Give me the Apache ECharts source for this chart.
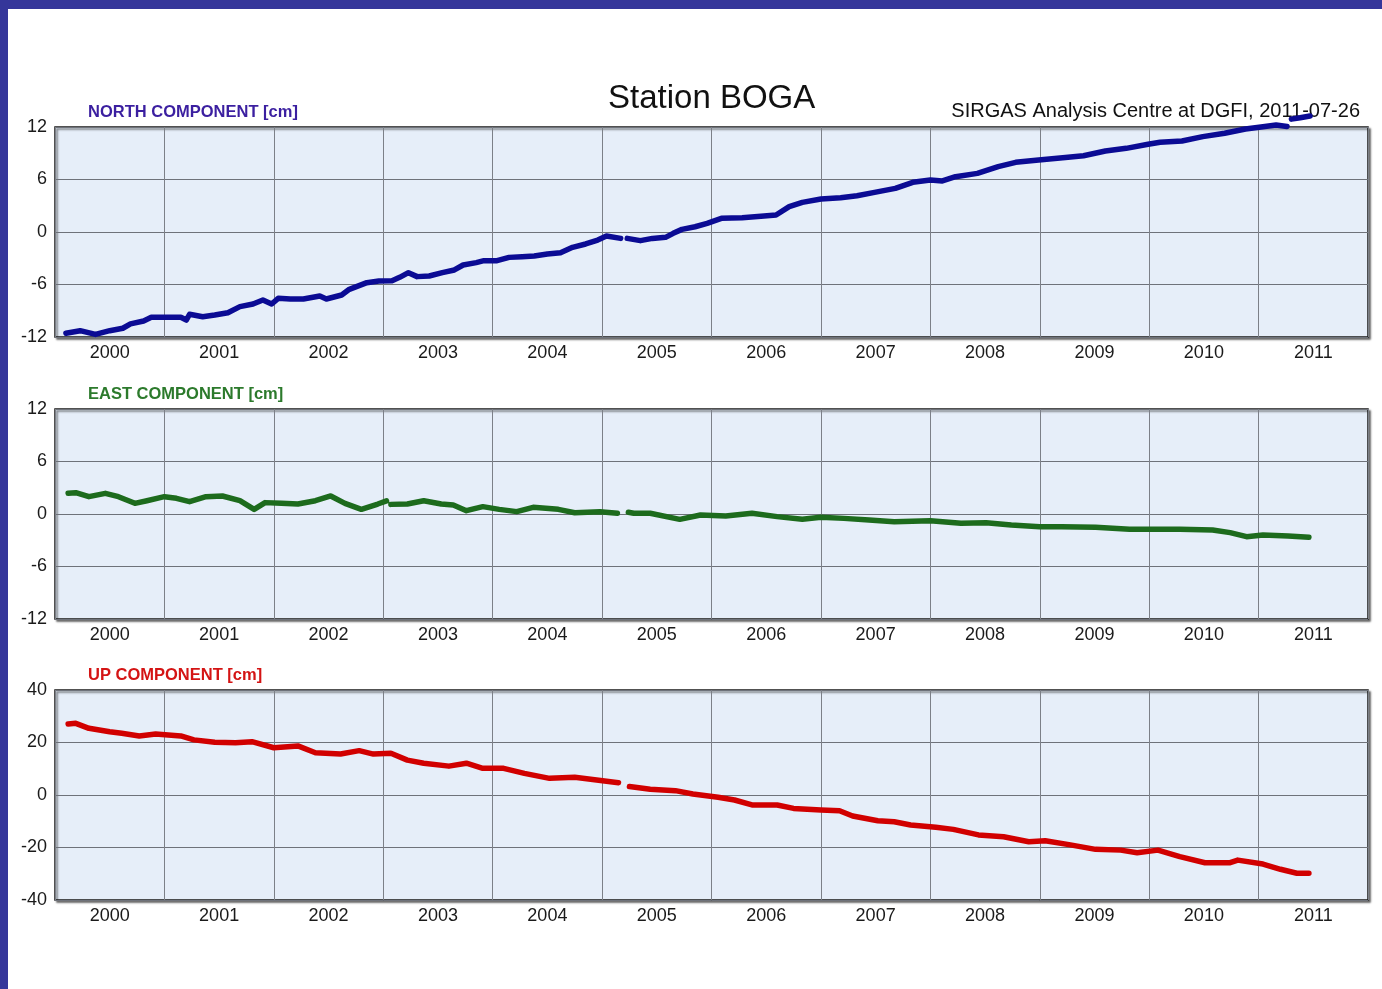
<!DOCTYPE html>
<html>
<head>
<meta charset="utf-8">
<script src="https://cdn.jsdelivr.net/npm/echarts@6/dist/echarts.min.js"></script>
<style>
html,body{margin:0;padding:0;background:#fff;}
#c{width:1382px;height:989px;}
</style>
</head>
<body>
<div id="c"></div>
<script>
const yearLabels = ['2000','2001','2002','2003','2004','2005','2006','2007','2008','2009','2010','2011'];
const northTicks = [-12, 12, 6];   // min, max, interval
const eastTicks = [-12, 12, 6];
const upTicks = [-40, 40, 20];

const northData = [
[2000.10,-11.58],[2000.23,-11.28],[2000.37,-11.7],[2000.50,-11.28],[2000.62,-11.0],[2000.69,-10.5],
[2000.81,-10.17],[2000.88,-9.75],[2001.00,-9.75],[2001.15,-9.75],[2001.20,-10.06],[2001.23,-9.4],
[2001.35,-9.68],[2001.46,-9.49],[2001.58,-9.22],[2001.69,-8.53],[2001.81,-8.23],[2001.90,-7.77],
[2001.98,-8.23],[2002.04,-7.58],[2002.15,-7.66],[2002.27,-7.66],[2002.42,-7.32],[2002.48,-7.66],
[2002.62,-7.2],[2002.69,-6.55],[2002.85,-5.79],[2002.96,-5.6],[2003.08,-5.56],[2003.15,-5.18],
[2003.23,-4.65],[2003.31,-5.1],[2003.42,-5.03],[2003.54,-4.65],[2003.65,-4.34],[2003.73,-3.77],
[2003.85,-3.5],[2003.92,-3.28],[2004.04,-3.28],[2004.15,-2.9],[2004.27,-2.82],[2004.38,-2.74],
[2004.50,-2.52],[2004.62,-2.36],[2004.73,-1.75],[2004.85,-1.37],[2004.96,-0.92],[2005.04,-0.46],
[2005.17,-0.73],[2005.20,'-'],[2005.23,-0.73],[2005.35,-0.99],[2005.46,-0.73],[2005.58,-0.61],
[2005.65,-0.15],[2005.73,0.3],[2005.85,0.6],[2005.96,0.99],[2006.09,1.56],[2006.28,1.64],
[2006.48,1.83],[2006.59,1.94],[2006.71,2.9],[2006.83,3.39],[2007.00,3.77],[2007.18,3.92],
[2007.33,4.15],[2007.49,4.53],[2007.68,4.99],[2007.84,5.68],[2008.00,5.94],[2008.11,5.83],
[2008.23,6.32],[2008.43,6.7],[2008.62,7.47],[2008.78,7.96],[2008.99,8.23],[2009.21,8.49],
[2009.40,8.72],[2009.60,9.26],[2009.79,9.56],[2009.99,10.02],[2010.10,10.25],[2010.30,10.4],
[2010.49,10.9],[2010.69,11.28],[2010.88,11.77],[2011.04,12.04],[2011.16,12.23],[2011.26,12.06],
[2011.28,'-'],[2011.30,12.9],[2011.38,13.05],[2011.47,13.25]
];

const eastData = [
[2000.12,2.36],[2000.19,2.44],[2000.31,1.98],[2000.46,2.36],[2000.58,1.98],[2000.73,1.22],
[2000.84,1.52],[2001.00,1.98],[2001.11,1.79],[2001.23,1.41],[2001.38,1.98],[2001.53,2.06],
[2001.69,1.52],[2001.82,0.53],[2001.92,1.30],[2002.07,1.22],[2002.22,1.14],[2002.38,1.52],
[2002.52,2.06],[2002.65,1.22],[2002.80,0.53],[2002.95,1.14],[2003.03,1.5],[2003.05,'-'],[2003.07,1.1],
[2003.22,1.14],[2003.37,1.52],[2003.53,1.14],[2003.64,1.03],[2003.76,0.38],[2003.91,0.84],
[2004.06,0.53],[2004.22,0.27],[2004.37,0.76],[2004.60,0.53],[2004.75,0.15],[2004.98,0.27],
[2005.14,0.08],[2005.20,'-'],[2005.24,0.2],[2005.29,0.08],[2005.44,0.08],[2005.71,-0.61],[2005.90,-0.11],
[2006.13,-0.23],[2006.37,0.08],[2006.60,-0.30],[2006.83,-0.61],[2007.00,-0.38],[2007.21,-0.50],
[2007.44,-0.69],[2007.67,-0.88],[2008.00,-0.76],[2008.28,-1.07],[2008.51,-0.99],[2008.74,-1.26],
[2009.00,-1.45],[2009.20,-1.45],[2009.51,-1.52],[2009.82,-1.75],[2010.01,-1.75],[2010.28,-1.75],
[2010.58,-1.83],[2010.74,-2.13],[2010.89,-2.59],[2011.04,-2.40],[2011.27,-2.51],[2011.46,-2.67]
];

const upData = [
[2000.12,27.05],[2000.19,27.3],[2000.31,25.4],[2000.50,24.1],[2000.61,23.5],[2000.77,22.5],
[2000.92,23.2],[2001.15,22.5],[2001.27,21.0],[2001.46,20.1],[2001.65,19.9],[2001.80,20.3],
[2002.00,18.0],[2002.22,18.7],[2002.38,16.1],[2002.61,15.6],[2002.78,16.9],[2002.91,15.6],
[2003.07,15.9],[2003.22,13.3],[2003.37,12.1],[2003.60,11.0],[2003.76,12.1],[2003.91,10.16],
[2004.10,10.16],[2004.29,8.25],[2004.52,6.35],[2004.75,6.73],[2004.95,5.7],[2005.15,4.7],
[2005.20,'-'],[2005.25,3.2],[2005.44,2.2],[2005.67,1.65],[2005.83,0.38],[2006.06,-0.89],[2006.21,-1.9],
[2006.37,-3.8],[2006.60,-3.8],[2006.75,-5.1],[2007.00,-5.7],[2007.17,-6.0],[2007.29,-8.0],
[2007.52,-9.8],[2007.67,-10.2],[2007.82,-11.4],[2008.05,-12.3],[2008.21,-13.1],[2008.44,-15.2],
[2008.67,-15.9],[2008.90,-17.8],[2009.05,-17.4],[2009.28,-19.0],[2009.51,-20.7],[2009.74,-21.0],
[2009.89,-22.0],[2010.08,-21.0],[2010.28,-23.5],[2010.51,-25.8],[2010.74,-25.8],[2010.81,-24.8],
[2011.04,-26.3],[2011.20,-28.3],[2011.35,-29.8],[2011.46,-29.8]
];

const FONT = 'Liberation Sans, Arial, Helvetica, sans-serif';
const panels = [
  {top:127, ticks:northTicks, data:northData, color:'#0b0b94', label:'NORTH COMPONENT [cm]', labelColor:'#3b1fa0'},
  {top:409, ticks:eastTicks, data:eastData, color:'#1d6b1d', label:'EAST COMPONENT [cm]', labelColor:'#2c7a2c'},
  {top:690, ticks:upTicks, data:upData, color:'#d10000', label:'UP COMPONENT [cm]', labelColor:'#d41414'}
];

const grid = [], xAxis = [], yAxis = [], series = [], graphic = [];
panels.forEach((p, i) => {
  grid.push({
    left:55, top:p.top, width:1313, height:210, show:true,
    backgroundColor:'#e6eef9', borderColor:'#1a1a1a', borderWidth:1.5,
    shadowColor:'rgba(0,0,0,0.55)', shadowBlur:2, shadowOffsetX:2, shadowOffsetY:2
  });
  xAxis.push({
    type:'value', gridIndex:i, min:2000, max:2012, interval:1, position:'bottom',
    axisLabel:{show:false}, axisTick:{show:false}, axisLine:{show:false},
    splitLine:{show:true, lineStyle:{color:'#7c8088', width:1}}
  });
  xAxis.push({
    type:'category', gridIndex:i, data:yearLabels, boundaryGap:true, position:'bottom',
    axisLine:{show:false}, axisTick:{show:false}, splitLine:{show:false},
    axisLabel:{show:true, color:'#1a1a1a', fontSize:18, fontFamily:FONT, margin:7, interval:0}
  });
  yAxis.push({
    type:'value', gridIndex:i, min:p.ticks[0], max:p.ticks[1], interval:p.ticks[2],
    axisLine:{show:false}, axisTick:{show:false},
    axisLabel:{color:'#1a1a1a', fontSize:18, fontFamily:FONT, margin:8},
    splitLine:{show:true, lineStyle:{color:'#6e727a', width:1}}
  });
  series.push({
    type:'line', xAxisIndex:i*2, yAxisIndex:i, data:p.data, showSymbol:false,
    clip:false, connectNulls:false, animation:false,
    lineStyle:{color:p.color, width:5.5, cap:'round', join:'round'}, z:5
  });
  graphic.push({
    type:'text', left:88, top:p.top - 23,
    style:{text:p.label, font:'bold 16.5px ' + FONT, fill:p.labelColor}
  });
});

graphic.push(
  {type:'rect', left:0, top:0, shape:{width:1382, height:9}, style:{fill:'#35369a'}, z:100},
  {type:'rect', left:0, top:0, shape:{width:8, height:989}, style:{fill:'#35369a'}, z:100},
  {type:'text', left:608, top:82, style:{text:'Station BOGA', font:'33px ' + FONT, fill:'#111'}},
  {type:'text', right:22, top:101, style:{text:'SIRGAS Analysis Centre at DGFI, 2011-07-26', font:'20px ' + FONT, fill:'#111'}}
);

const chart = echarts.init(document.getElementById('c'), null, {renderer:'canvas'});
chart.setOption({animation:false, backgroundColor:'#ffffff', grid, xAxis, yAxis, series, graphic});
</script>
</body>
</html>
